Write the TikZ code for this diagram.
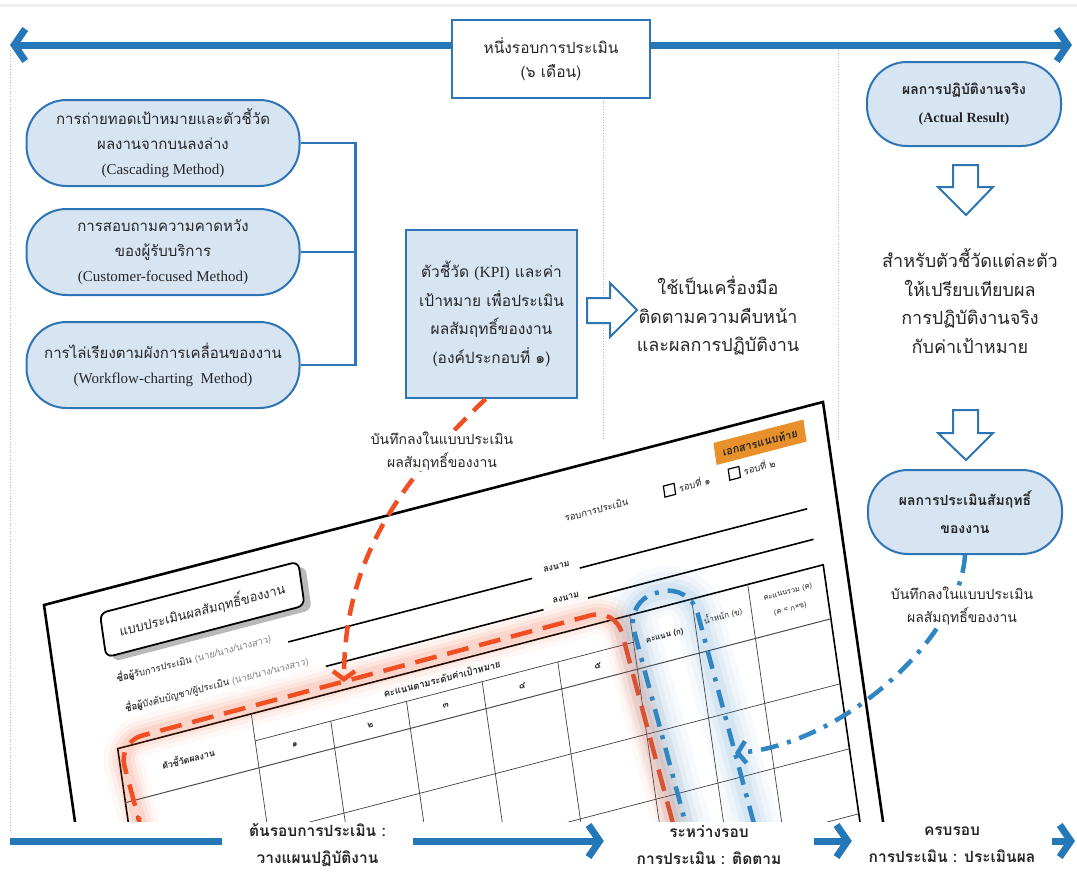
\documentclass[tikz,border=0pt]{standalone}
\usepackage{fontspec}
\setmainfont{Liberation Serif}
\newfontfamily\thf[Script=Thai]{Loma}
\usetikzlibrary{arrows.meta}
\definecolor{bl}{HTML}{2E75B6}
\definecolor{bfill}{HTML}{D7E4F2}
\definecolor{arr}{HTML}{2478B8}
\definecolor{org}{HTML}{F04E23}
\definecolor{tagc}{HTML}{E8912B}
\definecolor{txt}{HTML}{262626}
\definecolor{dbl}{HTML}{2F86C3}
\newcommand\lat[1]{{\rmfamily #1}}
\newcommand\fs[2]{\fontsize{#1}{#2}\selectfont}
\begin{document}
\begin{tikzpicture}[x=1pt,y=-1pt,
  sbox/.style={draw=bl, line width=2pt, fill=bfill, rounded corners=40pt, minimum width=273pt, minimum height=86pt, align=center, text=txt, font=\thf\fs{15}{25}},
  rbox/.style={draw=bl, line width=2pt, fill=bfill, rounded corners=40pt, minimum width=194pt, minimum height=84pt, align=center, text=txt, font=\thf\bfseries\fs{14}{28}},
  big/.style={draw=arr, line width=7pt},
  barbR/.style={-{Straight Barb[length=11pt,width=32pt]}},
  barbLR/.style={{Straight Barb[length=11pt,width=32pt]}-{Straight Barb[length=11pt,width=32pt]}},
  conn/.style={draw=bl, line width=2.4pt},
  blk/.style={draw=bl, line width=2pt, fill=white, line join=miter},
  plain/.style={align=center, text=txt, font=\thf\fs{18}{28.5}},
  note/.style={align=center, text=txt, fill=white, inner sep=1pt, font=\thf\fs{14}{23}},
  bot/.style={align=center, text=txt, inner sep=0pt, font=\thf\bfseries\fs{15.5}{27}},
  vdot/.style={draw=gray!55, dotted, line width=0.7pt},
  odash/.style={draw=org, line width=4.5pt, dash pattern=on 22pt off 11pt},
  bdash/.style={draw=dbl, line width=4.5pt, dash pattern=on 18pt off 9pt on 4pt off 9pt},
  fthin/.style={draw=black!75, line width=0.7pt},
  ftxt/.style={text=txt, inner sep=0pt, font=\thf\fs{8}{10}},
]
\useasboundingbox (0,0) rectangle (1077,886);
\fill[white] (0,0) rectangle (1077,886);
\draw[gray!12, line width=3pt] (0,5) -- (1077,5);

% dotted guides
\draw[vdot] (10,50) -- (10,832);
\draw[vdot] (603,98) -- (603,440);
\draw[vdot] (838,50) -- (838,440);

% ---------------- form (document image) ----------------
\begin{scope}
\clip (0,0) rectangle (1077,822);
\begin{scope}[cm={0.9677,0.2522,-0.143,1,(44pt,-605pt)}, transform shape]
  \draw[line width=2.6pt, fill=white] (0,700) -- (0,0) -- (805,0) -- (805,700);
  \fill[gray!55, rounded corners=7pt] (61,28) rectangle (266,72);
  \node[draw, line width=1.8pt, rounded corners=7pt, fill=white, minimum width=205pt, minimum height=44pt, text=txt, font=\thf\fs{13}{13}] (ftitle) at (157,44) {แบบประเมินผลสัมฤทธิ์ของงาน};
  \node[ftxt, anchor=base west, font=\thf\fs{9.5}{9}] (fr1) at (62,93) {\textbf{ชื่อผู้}รับการประเมิน \textcolor{gray}{(นาย/นาง/นางสาว)}};
  \node[ftxt, anchor=base west, font=\thf\fs{9.5}{9}] (fr2) at (66,124) {\textbf{ชื่อผู้}บังคับบัญชา/ผู้ประเมิน \textcolor{gray}{(นาย/นาง/นางสาว)}};
  \draw[line width=1.6pt] (238,97) -- (490,97);
  \draw[line width=1.6pt] (539,99) -- (774,99);
  \draw[line width=1.6pt] (272,130) -- (497,130);
  \draw[line width=1.6pt] (543,130) -- (776,130);
  \node[ftxt, font=\thf\bfseries\fs{9}{8}] (fs1) at (516,92) {ลงนาม};
  \node[ftxt, font=\thf\bfseries\fs{9}{8}] (fs2) at (521,124) {ลงนาม};
  \node[ftxt, font=\thf\fs{9.5}{8}] (fround) at (564,47) {รอบการประเมิน};
  \draw[line width=1.2pt] (634,41) rectangle (645,52);
  \node[ftxt, anchor=west, font=\thf\fs{9.5}{8}] (fc1) at (649,46) {รอบที่ ๑};
  \draw[line width=1.2pt] (701,41) rectangle (712,52);
  \node[ftxt, anchor=west, font=\thf\fs{9.5}{8}] (fc2) at (716,46) {รอบที่ ๒};
  \node[fill=tagc, minimum width=93pt, minimum height=22pt, inner sep=0pt, text=black!85, font=\thf\bfseries\fs{11}{9}] (ftag) at (736.5,23) {เอกสารแนบท้าย};
  % table
  \draw[line width=1.6pt] (53,600) -- (53,157) -- (782,157) -- (782,600);
  \draw[fthin] (191,184) -- (582,184);
  \draw[draw=black!70, line width=1pt] (53,211) -- (782,211);
  \foreach \v in {276,341,406,471,536} \draw[fthin] (53,\v) -- (782,\v);
  \draw[fthin] (191,157) -- (191,600);
  \foreach \u in {269.2,347.4,425.6,503.8} \draw[fthin] (\u,184) -- (\u,600);
  \foreach \u in {582,646,704} \draw[fthin] (\u,157) -- (\u,600);
  \node[ftxt, font=\thf\bfseries\fs{9}{8}] (fh0) at (122,184) {ตัวชี้วัดผลงาน};
  \node[ftxt, font=\thf\bfseries\fs{9.5}{8}] (fh1) at (386,171) {คะแนนตามระดับค่าเป้าหมาย};
  \node[ftxt, font=\thf\bfseries\fs{9}{8}] (fn1) at (230,198) {๑};
  \node[ftxt, font=\thf\bfseries\fs{9}{8}] (fn2) at (308,198) {๒};
  \node[ftxt, font=\thf\bfseries\fs{9}{8}] (fn3) at (386,198) {๓};
  \node[ftxt, font=\thf\bfseries\fs{9}{8}] (fn4) at (465,198) {๔};
  \node[ftxt, font=\thf\bfseries\fs{9}{8}] (fn5) at (543,198) {๕};
  \node[ftxt, font=\thf\bfseries\fs{8}{8}] (fha) at (614,186) {คะแนน (ก)};
  \node[ftxt, font=\thf\fs{8}{8}] (fhb) at (675,181) {น้ำหนัก (ข)};
  \node[ftxt, align=center, font=\thf\fs{7.5}{17}] (fhc) at (743,183) {คะแนนรวม (ค)\\(ค = ก×ข)};
  \node[ftxt, anchor=west, font=\thf\fs{8.5}{8}] (frow1) at (60,229) {๑.};
\end{scope}
% orange highlight
\begin{scope}[shift={(118,742)}, rotate=15]
  \foreach \w/\o in {40/0.04,30/0.05,22/0.07,14/0.09}
    \draw[org, line width=\w pt, opacity=\o, rounded corners=25pt] (0,330) -- (0,0) -- (515,0) -- (515,330);
  \draw[odash, rounded corners=25pt] (0,330) -- (0,0) -- (515,0) -- (515,330);
\end{scope}
% blue highlight
\begin{scope}[shift={(626,601)}, rotate=15]
  \foreach \w/\o in {50/0.035,38/0.045,26/0.06,16/0.07}
    \draw[dbl, line width=\w pt, opacity=\o, rounded corners=30pt] (0,330) -- (0,0) -- (66,0) -- (66,330);
  \draw[bdash, rounded corners=30pt] (0,330) -- (0,0) -- (66,0) -- (66,330);
\end{scope}
\end{scope}

% ---------------- top banner ----------------
\coordinate (tl) at (10,45);
\coordinate (tr) at (1072,45);
\draw[big, barbLR] (tl) -- (tr);
\node[draw=bl, line width=2pt, fill=white, minimum width=198pt, minimum height=78pt, align=center, text=txt, font=\thf\fs{15.5}{24}] (tb) at (551,59) {หนึ่งรอบการประเมิน\\(๖ เดือน)};

% ---------------- left method boxes ----------------
\node[sbox] (m1) at (163,143) {การถ่ายทอดเป้าหมายและตัวชี้วัด\\ผลงานจากบนลงล่าง\\\lat{(Cascading Method)}};
\node[sbox] (m2) at (163,252) {การสอบถามความคาดหวัง\\ของผู้รับบริการ\\\lat{(Customer-focused Method)}};
\node[sbox] (m3) at (163,365) {การไล่เรียงตามผังการเคลื่อนของงาน\\\lat{(Workflow-charting\ \ Method)}};
\draw[conn] (m1.east) -- ++(55,0) coordinate (bk) -- (bk |- m3.east) -- (m3.east);
\draw[conn] (m2.east) -- (m2.east -| bk);

% ---------------- KPI box ----------------
\node[draw=bl, line width=2.2pt, fill=bfill, minimum width=171pt, minimum height=168pt, align=center, text=txt, font=\thf\fs{15.5}{28.5}] (kpi) at (491.5,314) {ตัวชี้วัด \lat{(KPI)} และค่า\\เป้าหมาย เพื่อประเมิน\\ผลสัมฤทธิ์ของงาน\\(องค์ประกอบที่ ๑)};
\draw[blk] (587,298) -- (610,298) -- (610,283) -- (637,310) -- (610,337) -- (610,323) -- (587,323) -- cycle;
\node[plain] (use) at (718,316) {ใช้เป็นเครื่องมือ\\ติดตามความคืบหน้า\\และผลการปฏิบัติงาน};

% ---------------- right column ----------------
\node[rbox] (r1) at (964,104) {ผลการปฏิบัติงานจริง\\\lat{\bfseries (Actual Result)}};
\draw[blk] (953,165) -- (978,165) -- (978,187) -- (993,187) -- (966,215) -- (938,187) -- (953,187) -- cycle;
\node[plain] (cmp) at (970,301) {สำหรับตัวชี้วัดแต่ละตัว\\ให้เปรียบเทียบผล\\การปฏิบัติงานจริง\\กับค่าเป้าหมาย};
\draw[blk] (953,410) -- (978,410) -- (978,433) -- (993,433) -- (966,460) -- (938,433) -- (953,433) -- cycle;
\node[rbox] (r2) at (965,512) {ผลการประเมินสัมฤทธิ์\\ของงาน};

% ---------------- curved connectors ----------------
\coordinate (fa) at (344,682);
\draw[odash, dash pattern=on 17pt off 10pt, -{Straight Barb[length=8pt,width=22pt]}] ([xshift=-6pt]kpi.south) .. controls (390,490) and (344,570) .. (fa);
\node[note] (lab1) at (442,451) {บันทึกลงในแบบประเมิน\\ผลสัมฤทธิ์ของงาน};
\coordinate (ba) at (735,753);
\draw[bdash, -{Straight Barb[length=8pt,width=22pt]}] (r2.south) .. controls (960,640) and (840,745) .. (ba);
\node[note] (lab2) at (962,606) {บันทึกลงในแบบประเมิน\\ผลสัมฤทธิ์ของงาน};

% ---------------- bottom timeline ----------------
\fill[white] (0,822) rectangle (1077,886);
\draw[vdot] (10,822) -- (10,832);
\node[bot, minimum width=191pt] (b1) at (317.5,845) {ต้นรอบการประเมิน :\\วางแผนปฏิบัติงาน};
\node[bot, minimum width=210pt] (b2) at (709,845) {ระหว่างรอบ\\การประเมิน : ติดตาม};
\node[bot, minimum width=200pt] (b3) at (952,845) {ครบรอบ\\การประเมิน : ประเมินผล};
\coordinate (s0) at (10,841);
\coordinate (s9) at (1075,841);
\draw[big] (s0) -- (s0 -| b1.west);
\draw[big, barbR] (b1.east |- s0) -- (b2.west |- s0);
\draw[big, barbR] (b2.east |- s0) -- (b3.west |- s0);
\draw[big, barbR] (b3.east |- s0) -- (s9);
\end{tikzpicture}
\end{document}
